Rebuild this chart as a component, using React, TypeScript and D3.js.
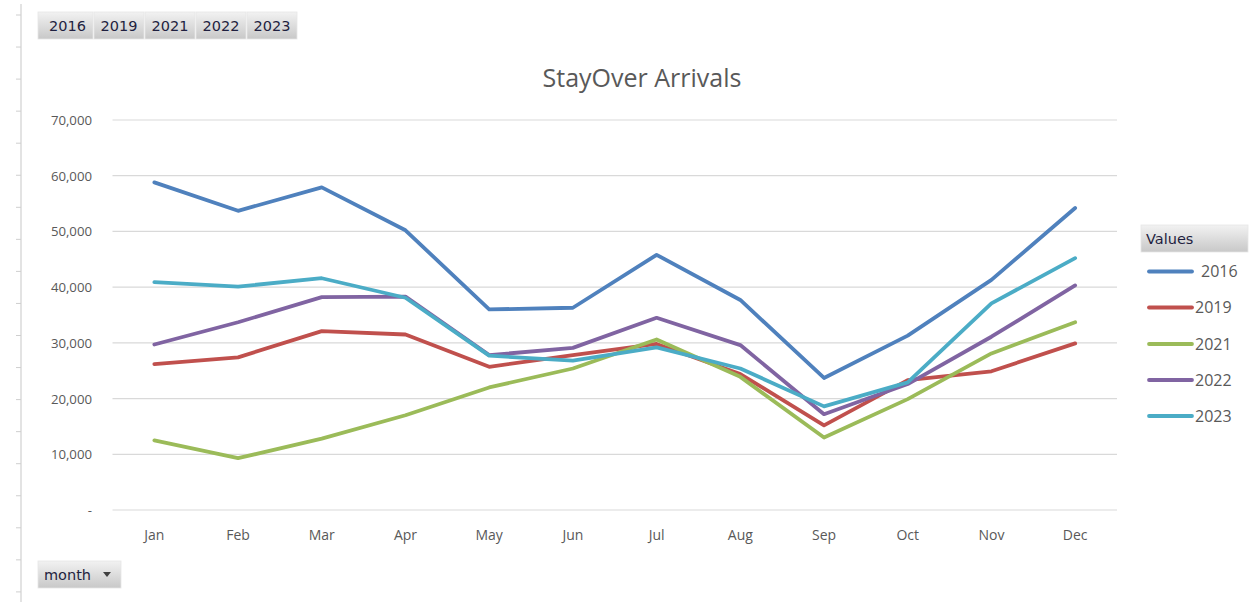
import React from "react";
import * as d3 from "d3";

const months = ["Jan", "Feb", "Mar", "Apr", "May", "Jun", "Jul", "Aug", "Sep", "Oct", "Nov", "Dec"];
const years = ["2016", "2019", "2021", "2022", "2023"];
const s2016 = [58800, 53700, 57900, 50200, 36000, 36300, 45800, 37700, 23700, 31300, 41300, 54200];
const s2019 = [26200, 27400, 32100, 31500, 25700, 27800, 29800, 24400, 15200, 23300, 24900, 29900];
const s2021 = [12500, 9300, 12800, 17000, 22000, 25400, 30600, 23900, 13000, 19900, 28100, 33700];
const s2022 = [29700, 33700, 38200, 38300, 27800, 29100, 34500, 29600, 17200, 22600, 31100, 40300];
const s2023 = [40900, 40100, 41600, 38100, 27700, 26800, 29200, 25400, 18600, 22900, 37100, 45200];
const seriesValues = [s2016, s2019, s2021, s2022, s2023];
const colors = ["#4F81BD", "#C0504D", "#9BBB59", "#8064A2", "#4BACC6"];
const yTicks = [0, 10000, 20000, 30000, 40000, 50000, 60000, 70000];
const title = "StayOver Arrivals";

export default function App() {
  const W = 1256, H = 602;
  const x = d3.scaleBand<string>().domain(months).range([112.5, 1117]).paddingInner(0).paddingOuter(0);
  const y = d3.scaleLinear().domain([0, 70000]).range([510, 120]);
  const cx = (m: string) => (x(m) as number) + x.bandwidth() / 2;
  const line = d3.line<number>().x((_, i) => cx(months[i])).y((v) => y(v));
  const fmt = (v: number) => (v === 0 ? "-" : d3.format(",")(v));
  const rulerTicks = d3.range(19).map((k) => 15 + k * 32.05);
  const btnX = [38, 94, 145, 196, 247];
  const btnW = [55, 50, 50, 50, 50];
  const legendY = [271.5, 307.5, 344, 380, 416];
  const axisFont = "'Open Sans', sans-serif";
  const btnFont = "'DejaVu Sans', sans-serif";
  return (
    <svg width={W} height={H} style={{ position: "absolute", left: 0, top: 0, background: "#fff" }}>
      <defs>
        <linearGradient id="btn" x1="0" y1="0" x2="0" y2="1">
          <stop offset="0" stopColor="#F2F2F2" />
          <stop offset="1" stopColor="#C8C8C8" />
        </linearGradient>
      </defs>
      <rect x={0} y={0} width={W} height={H} fill="#fff" />
      {/* ruler */}
      <line x1={21} x2={21} y1={4} y2={H} stroke="#DADADA" strokeWidth={1.5} />
      {rulerTicks.map((t, i) => (
        <line key={i} x1={16} x2={21} y1={t} y2={t} stroke="#CFCFCF" strokeWidth={1} />
      ))}
      {/* top filter buttons */}
      {years.map((yr, i) => (
        <g key={yr}>
          <rect x={btnX[i]} y={12} width={btnW[i]} height={27} fill="url(#btn)" stroke="#E6E6E6" strokeWidth={0.8} />
          <text x={btnX[i] + btnW[i] / 2 + (i === 0 ? 2 : 0)} y={31} textAnchor="middle" fontFamily={btnFont} fontSize={14.5} fill="#1F1F3F">
            {yr}
          </text>
        </g>
      ))}
      {/* title */}
      <text x={642} y={87} textAnchor="middle" fontFamily={axisFont} fontSize={25} fill="#595959">
        {title}
      </text>
      {/* gridlines */}
      {yTicks.map((t) => (
        <line key={t} x1={112.5} x2={1117} y1={y(t)} y2={y(t)} stroke="#D9D9D9" strokeWidth={1.2} />
      ))}
      {yTicks.map((t) => (
        <text key={"l" + t} x={92} y={y(t) + 5} textAnchor="end" fontFamily={axisFont} fontSize={13.2} fill="#595959">
          {fmt(t)}
        </text>
      ))}
      {months.map((m) => (
        <text key={m} x={cx(m)} y={539.5} textAnchor="middle" fontFamily={axisFont} fontSize={14} fill="#595959">
          {m}
        </text>
      ))}
      {/* series */}
      {seriesValues.map((vals, i) => (
        <path key={years[i]} d={line(vals) as string} fill="none" stroke={colors[i]} strokeWidth={3.8} strokeLinejoin="round" strokeLinecap="round" />
      ))}
      {/* legend */}
      <rect x={1141} y={225} width={107} height={27} fill="url(#btn)" stroke="#E6E6E6" strokeWidth={0.8} />
      <text x={1146} y={244} fontFamily={btnFont} fontSize={14.5} fill="#1F1F3F">Values</text>
      {years.map((yr, i) => (
        <g key={"lg" + yr}>
          <line x1={1149} x2={1192} y1={legendY[i]} y2={legendY[i]} stroke={colors[i]} strokeWidth={3.8} strokeLinecap="round" />
          <text x={i === 0 ? 1201 : 1195} y={legendY[i] + 5.5} fontFamily={axisFont} fontSize={16} fill="#595959">
            {yr}
          </text>
        </g>
      ))}
      {/* month button */}
      <rect x={38} y={561} width={83} height={27} fill="url(#btn)" stroke="#E6E6E6" strokeWidth={0.8} />
      <text x={44} y={580} fontFamily={btnFont} fontSize={14.5} fill="#1F1F3F">month</text>
      <path d="M103,572 L111,572 L107,577 Z" fill="#404040" />
    </svg>
  );
}
